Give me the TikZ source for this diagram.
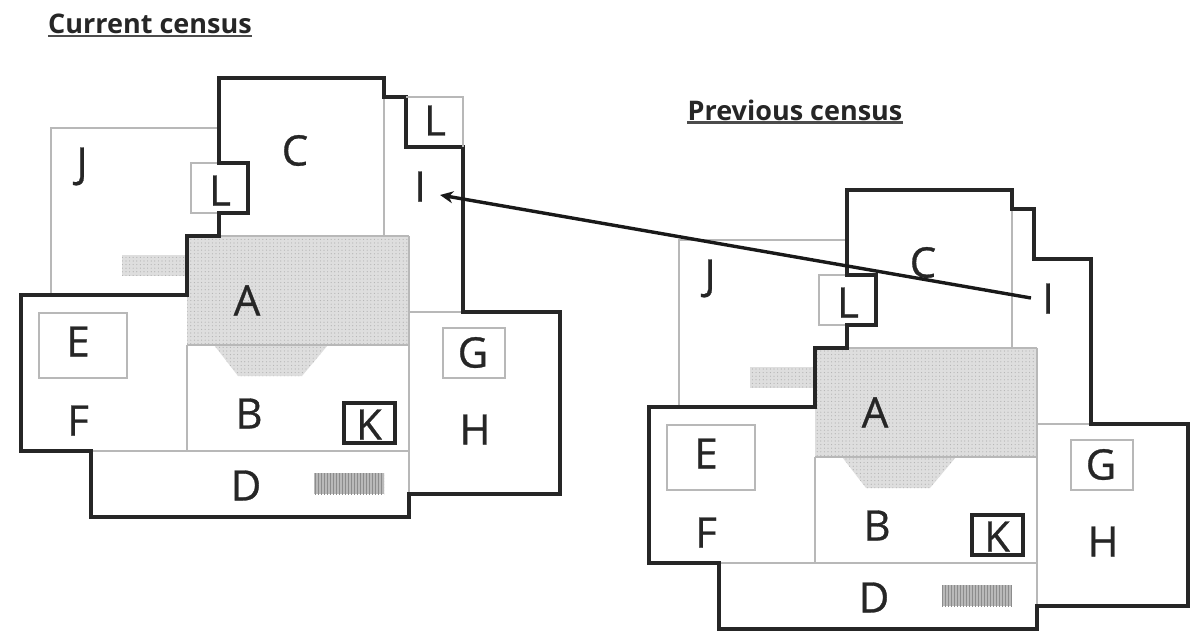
\documentclass[tikz,border=0pt]{standalone}
\usepackage{fontspec}
\setmainfont{Open Sans}
\newfontfamily\roomfont[FakeBold=0.7]{Open Sans}
\usetikzlibrary{patterns.meta,arrows.meta}
\definecolor{wallgray}{gray}{0.72}
\definecolor{dotgray}{gray}{0.87}
\def\planx{628}
\def\plany{112}
% one floor plan, #1 is the prefix of its node names
\newcommand{\censusplan}[1]{
    \fill[dotgray,postaction={pattern={Dots[distance=3.6pt,radius=0.6pt]},pattern color=gray!60}] (187,236) rectangle (409,345);
    \fill[dotgray,postaction={pattern={Dots[distance=3.6pt,radius=0.6pt]},pattern color=gray!60}] (122,255) rectangle (187,276);
    \fill[dotgray,postaction={pattern={Dots[distance=3.6pt,radius=0.6pt]},pattern color=gray!60}] (214,345) -- (328,345) -- (302,376) -- (238,376) -- cycle;
    \fill[gray!55,postaction={pattern={Lines[angle=90,distance=3pt,line width=0.9pt]},pattern color=gray!90}] (314,473) rectangle (384,494);
    \draw[wall] (51,295) -- (51,128) -- (219,128);
    \draw[wall] (219,163) -- (191,163) -- (191,213) -- (219,213);
    \draw[wall] (384,97) -- (384,236);
    \draw[wall] (187,236) -- (409,236);
    \draw[wall] (409,236) -- (409,494);
    \draw[wall] (187,345) -- (409,345);
    \draw[wall] (187,345) -- (187,451);
    \draw[wall] (91,451) -- (409,451);
    \draw[wall] (409,312) -- (463,312);
    \draw[wall] (39,313) rectangle (127,378);
    \draw[wall] (443,328) rectangle (505,378);
    \draw[outer] (344,403) rectangle (395,443);
    \draw[outer] (219,78) -- (384,78) -- (384,97) -- (406,97) -- (406,147) -- (463,147) -- (463,312) -- (560,312) -- (560,494) -- (409,494) -- (409,517) -- (91,517) -- (91,451) -- (21,451) -- (21,295) -- (187,295) -- (187,236) -- (219,236) -- (219,213) -- (248,213) -- (248,163) -- (219,163) -- cycle;
    \node[room] (#1A) at (247,300) {A};
    \node[room] (#1B) at (249,413) {B};
    \node[room] (#1C) at (295,150) {C};
    \node[room] (#1D) at (246,485) {D};
    \node[room] (#1E) at (78,341) {E};
    \node[room] (#1F) at (78,420) {F};
    \node[room] (#1G) at (473,352) {G};
    \node[room] (#1H) at (475,429) {H};
    \node[room] (#1I) at (420,186) {I};
    \node[room] (#1J) at (82,162) {J};
    \node[room] (#1K) at (369,424) {K};
    \node[room] (#1L) at (220,190) {L};
}

\begin{document}
\begin{tikzpicture}[x=1pt,y=-1pt,
    wall/.style={draw=wallgray,line width=1.6pt},
    outer/.style={draw=black!85,line width=3.4pt,line join=miter},
    room/.style={font=\roomfont\fontsize{42}{42}\selectfont,text=black!85,inner sep=0pt,text height=31pt,text depth=0pt},
    title/.style={font=\fontsize{27}{27}\bfseries\selectfont,text=black!85,inner sep=0pt}]
    \useasboundingbox (0,0) rectangle (1193,639);

    \censusplan{cur}
    \draw[wall] (406,97) -- (463,97) -- (463,147);
    \node[room] (curL2) at (435,120) {L};

    \begin{scope}[shift={(\planx,\plany)}]
      \censusplan{prev}
    \end{scope}

    \node[title] (curT) at (150,24) {Current census};
    \node[title] (prevT) at (795,110) {Previous census};
    \draw[line width=2.4pt,black!70] ([yshift=-2pt]curT.south west) -- ([yshift=-2pt]curT.south east);
    \draw[line width=2.4pt,black!70] ([yshift=-2pt]prevT.south west) -- ([yshift=-2pt]prevT.south east);

    \draw[line width=3.4pt,black!90,-{Stealth[length=13pt,width=12pt]}] ([xshift=-11pt]prevI.west) -- ([xshift=14pt,yshift=-9pt]curI.east);
\end{tikzpicture}
\end{document}
